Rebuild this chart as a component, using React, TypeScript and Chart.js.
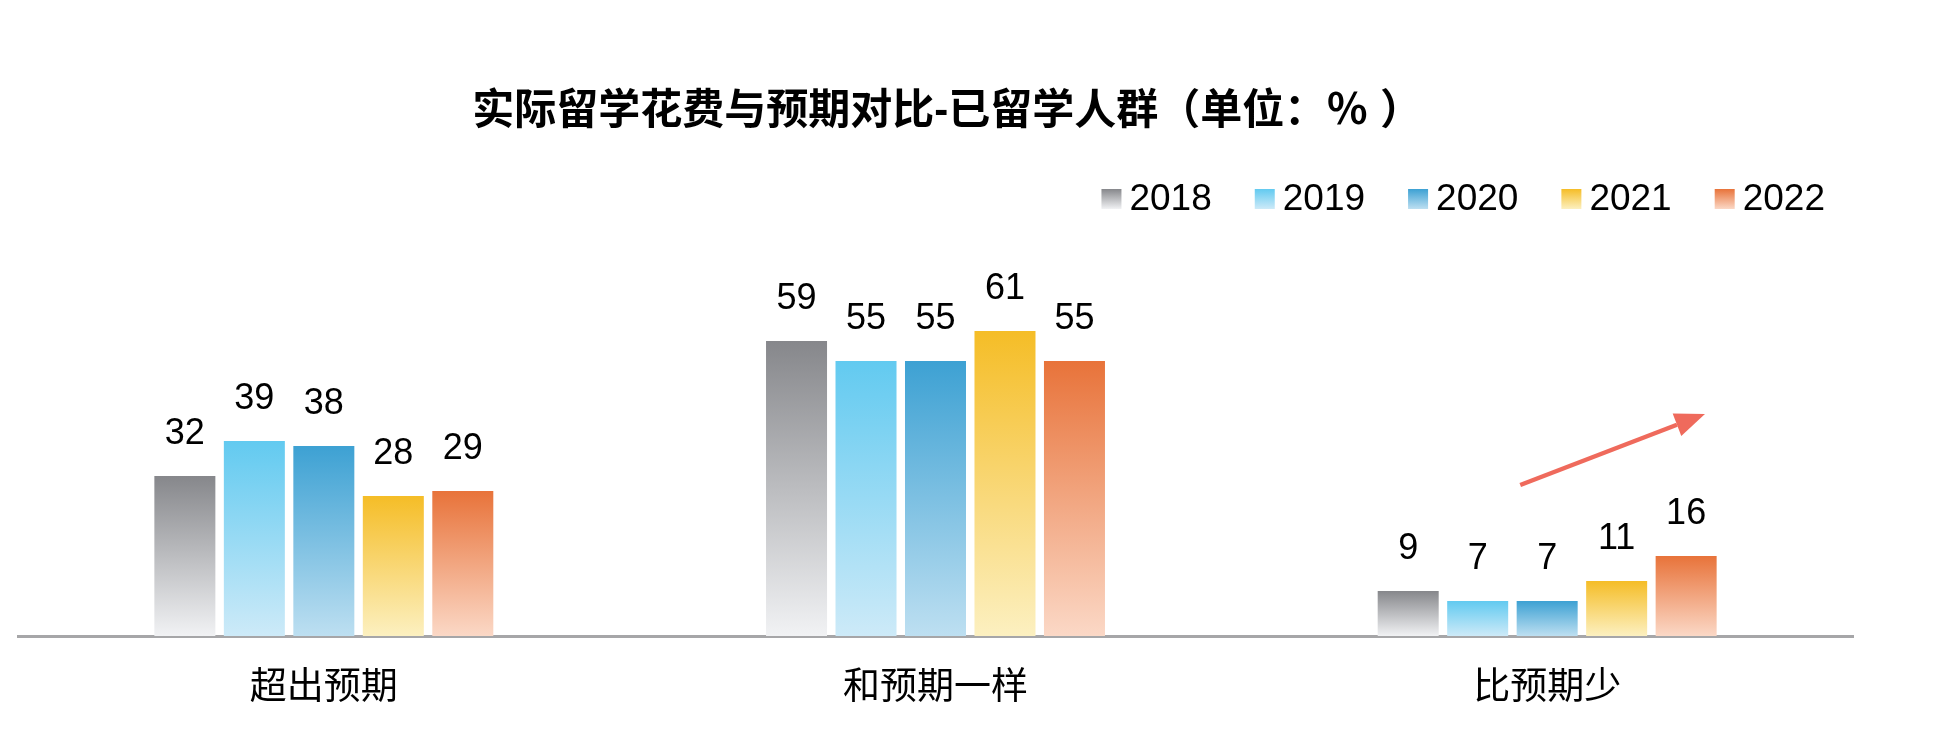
import { useEffect, useRef } from "react";
import { Chart, registerables, Plugin, ScriptableContext } from "chart.js";

Chart.register(...registerables);

const categories = ["超出预期", "和预期一样", "比预期少"];
const years = ["2018", "2019", "2020", "2021", "2022"];
const values2018 = [32, 59, 9];
const values2019 = [39, 55, 7];
const values2020 = [38, 55, 7];
const values2021 = [28, 61, 11];
const values2022 = [29, 55, 16];
const yearValues = [values2018, values2019, values2020, values2021, values2022];

const topColors = ["#86878b", "#62caf0", "#3da1d3", "#f5bd27", "#e8733a"];
const bottomColors = ["#f1f2f4", "#cdeaf8", "#bddff1", "#fcf0c0", "#fbd8c6"];

// trend arrow over the last group: [category position, value]
const arrowTail = [1.956, 30.2];
const arrowHead = [2.258, 44.4];

// leading spaces balance the empty half of the closing full-width bracket
const TITLE = "  实际留学花费与预期对比-已留学人群（单位：％ ）";
const FONT = "'Liberation Sans', 'Noto Sans CJK SC', sans-serif";

function barGradient(i: number) {
  return (c: ScriptableContext<"bar">) => {
    const chart = c.chart;
    const area = chart.chartArea;
    if (!area || c.type !== "data") return topColors[i];
    const top = chart.scales.y.getPixelForValue(c.raw as number);
    const g = chart.ctx.createLinearGradient(0, top, 0, area.bottom);
    g.addColorStop(0, topColors[i]);
    g.addColorStop(1, bottomColors[i]);
    return g;
  };
}

const valueLabels: Plugin<"bar"> = {
  id: "valueLabels",
  afterDatasetsDraw(chart) {
    const ctx = chart.ctx;
    ctx.save();
    ctx.font = `36px ${FONT}`;
    ctx.fillStyle = "#000";
    ctx.textAlign = "center";
    ctx.textBaseline = "middle";
    chart.data.datasets.forEach((ds, i) => {
      chart.getDatasetMeta(i).data.forEach((bar, j) => {
        ctx.fillText(String(ds.data[j]), bar.x, bar.y - 42);
      });
    });
    ctx.restore();
  },
};

const gradientLegend: Plugin<"bar"> = {
  id: "gradientLegend",
  afterDraw(chart) {
    const { ctx, chartArea } = chart;
    ctx.save();
    ctx.font = `37px ${FONT}`;
    ctx.textBaseline = "middle";
    const box = 20, gap = 8, spacing = 43;
    const widths = years.map((y) => ctx.measureText(y).width);
    const total =
      widths.reduce((s, w) => s + box + gap + w, 0) + spacing * (years.length - 1);
    let x = chartArea.right - 28 - total;
    const cy = 199;
    years.forEach((y, i) => {
      const g = ctx.createLinearGradient(0, cy - box / 2, 0, cy + box / 2);
      g.addColorStop(0, topColors[i]);
      g.addColorStop(1, bottomColors[i]);
      ctx.fillStyle = g;
      ctx.fillRect(x, cy - box / 2, box, box);
      ctx.fillStyle = "#000";
      ctx.fillText(y, x + box + gap, cy + 1);
      x += box + gap + widths[i] + spacing;
    });
    ctx.restore();
  },
};

const trendArrow: Plugin<"bar"> = {
  id: "trendArrow",
  afterDraw(chart) {
    const { ctx, scales } = chart;
    const x1 = scales.x.getPixelForValue(arrowTail[0]);
    const y1 = scales.y.getPixelForValue(arrowTail[1]);
    const x2 = scales.x.getPixelForValue(arrowHead[0]);
    const y2 = scales.y.getPixelForValue(arrowHead[1]);
    const ang = Math.atan2(y2 - y1, x2 - x1);
    const len = 30, half = 12;
    const bx = x2 - len * Math.cos(ang);
    const by = y2 - len * Math.sin(ang);
    ctx.save();
    ctx.strokeStyle = "#ef6a5c";
    ctx.fillStyle = "#ef6a5c";
    ctx.lineWidth = 4.5;
    ctx.beginPath();
    ctx.moveTo(x1, y1);
    ctx.lineTo(bx, by);
    ctx.stroke();
    ctx.beginPath();
    ctx.moveTo(x2, y2);
    ctx.lineTo(bx + half * Math.sin(ang), by - half * Math.cos(ang));
    ctx.lineTo(bx - half * Math.sin(ang), by + half * Math.cos(ang));
    ctx.closePath();
    ctx.fill();
    ctx.restore();
  },
};

function ExpenseChart() {
  const canvasRef = useRef<HTMLCanvasElement>(null);

  useEffect(() => {
    if (!canvasRef.current) return;

    const chart = new Chart(canvasRef.current, {
      type: "bar",
      data: {
        labels: categories,
        datasets: years.map((y, i) => ({
          label: y,
          data: yearValues[i],
          backgroundColor: barGradient(i),
          borderWidth: 0,
          barPercentage: 0.878,
          categoryPercentage: 0.568,
        })),
      },
      options: {
        animation: false,
        responsive: true,
        maintainAspectRatio: false,
        layout: { padding: { left: 18, right: 83, top: 0, bottom: 5.6 } },
        plugins: {
          legend: { display: false },
          tooltip: { enabled: false },
          title: {
            display: true,
            text: TITLE,
            color: "#000",
            font: { family: FONT, size: 42, weight: "bold" },
            padding: { top: 87, bottom: 148.6 },
          },
        },
        scales: {
          x: {
            grid: { display: false, drawTicks: false },
            border: { display: true, color: "#a6a6a8", width: 3 },
            ticks: { color: "#000", padding: 31, font: { family: FONT, size: 37 } },
          },
          y: { display: false, min: 0, max: 70 },
        },
      },
      plugins: [valueLabels, gradientLegend, trendArrow],
    });

    return () => chart.destroy();
  }, []);

  return (
    <div style={{ position: "fixed", left: 0, top: 0, width: 1936, height: 748, background: "#fff" }}>
      <canvas ref={canvasRef}></canvas>
    </div>
  );
}

export default function App() {
  return <ExpenseChart />;
}
